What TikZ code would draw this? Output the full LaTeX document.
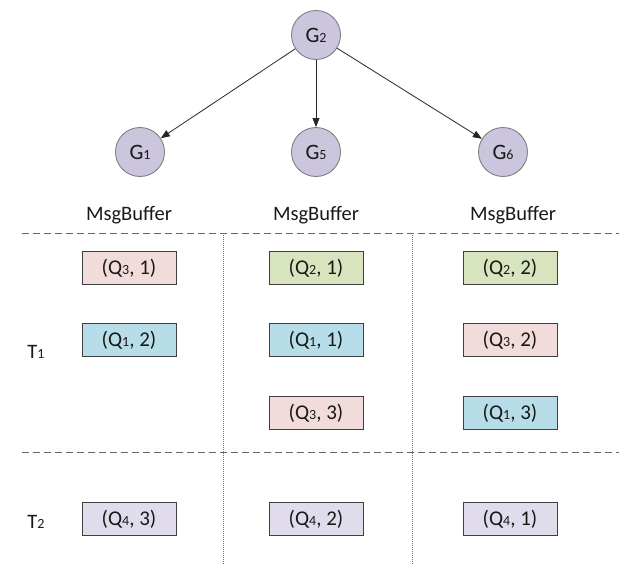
\documentclass[tikz,border=0pt]{standalone}
\usepackage{fontspec}
\setmainfont{Carlito}
\usetikzlibrary{arrows.meta}
\definecolor{gfill}{HTML}{CBC5DE}
\definecolor{gdraw}{HTML}{7F7F7F}
\definecolor{cpink}{HTML}{F2DCDB}
\definecolor{cgreen}{HTML}{D7E4BD}
\definecolor{cblue}{HTML}{B7DEE8}
\definecolor{cpurple}{HTML}{E0DCEC}
\definecolor{bdraw}{HTML}{404040}
\newcommand{\dsub}[1]{{\fontsize{14}{14}\selectfont #1}}
\begin{document}
\begin{tikzpicture}[x=1pt,y=-1pt,
  gnode/.style={circle,draw=gdraw,fill=gfill,line width=0.9pt,minimum size=49pt,inner sep=0pt,font=\fontsize{22}{22}\selectfont,text=black!90},
  qbox/.style={rectangle,draw=bdraw,line width=0.9pt,minimum width=94pt,minimum height=33pt,inner sep=0pt,font=\fontsize{21}{21}\selectfont,text=black!90},
  lbl/.style={font=\fontsize{20.5}{20.5}\selectfont,text=black!90,inner sep=0pt},
  arr/.style={-{Triangle[length=9pt,width=7pt]},draw=black!85,line width=0.8pt},
  hdash/.style={draw=black!60,line width=0.9pt,dash pattern=on 7pt off 4pt},
  vdot/.style={draw=black!55,line width=0.8pt,dash pattern=on 1pt off 1pt}]
\useasboundingbox (0,0) rectangle (619,565);
\fill[white] (0,0) rectangle (619,565);
% tree
\node[gnode] (g2) at (316,35) {G\dsub{2}};
\node[gnode] (g1) at (140,152) {G\dsub{1}};
\node[gnode] (g5) at (316,152) {G\dsub{5}};
\node[gnode] (g6) at (503,152) {G\dsub{6}};
\draw[arr] (g2) -- (g1);
\draw[arr] (g2) -- (g5);
\draw[arr] (g2) -- (g6);
% headers
\node[lbl] (mb1) at (129,215) {MsgBuffer};
\node[lbl] (mb2) at (316,215) {MsgBuffer};
\node[lbl] (mb3) at (513,215) {MsgBuffer};
% grid lines
\coordinate (h1a) at (22,233); \coordinate (h1b) at (619,233);
\coordinate (h2a) at (22,452); \coordinate (h2b) at (619,452);
\coordinate (v1a) at (223,233); \coordinate (v1b) at (223,565);
\coordinate (v2a) at (412,233); \coordinate (v2b) at (412,565);
\draw[hdash] (h1a) -- (h1b);
\draw[hdash] (h2a) -- (h2b);
\draw[vdot] (v1a) -- (v1b);
\draw[vdot] (v2a) -- (v2b);
% row labels
\node[lbl] (t1) at (36,352) {T\dsub{1}};
\node[lbl] (t2) at (36,522) {T\dsub{2}};
% boxes
\node[qbox,fill=cpink] (a1) at (129,268) {(Q\dsub{3}, 1)};
\node[qbox,fill=cblue] (a2) at (129,340) {(Q\dsub{1}, 2)};
\node[qbox,fill=cpurple] (a4) at (129,519) {(Q\dsub{4}, 3)};
\node[qbox,fill=cgreen] (b1) at (316,268) {(Q\dsub{2}, 1)};
\node[qbox,fill=cblue] (b2) at (316,340) {(Q\dsub{1}, 1)};
\node[qbox,fill=cpink] (b3) at (316,413) {(Q\dsub{3}, 3)};
\node[qbox,fill=cpurple] (b4) at (316,519) {(Q\dsub{4}, 2)};
\node[qbox,fill=cgreen] (c1) at (510,268) {(Q\dsub{2}, 2)};
\node[qbox,fill=cpink] (c2) at (510,340) {(Q\dsub{3}, 2)};
\node[qbox,fill=cblue] (c3) at (510,413) {(Q\dsub{1}, 3)};
\node[qbox,fill=cpurple] (c4) at (510,519) {(Q\dsub{4}, 1)};
\end{tikzpicture}
\end{document}
